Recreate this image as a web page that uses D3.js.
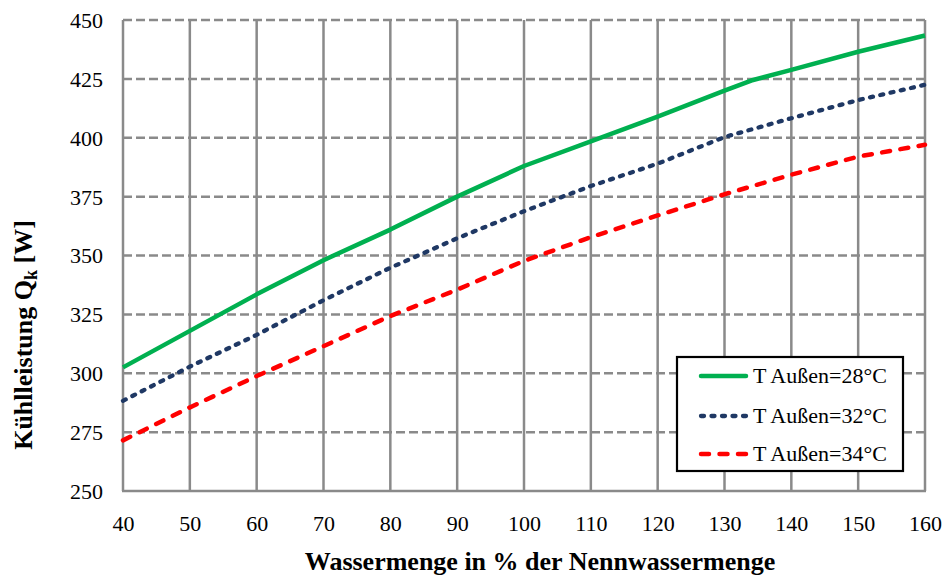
<!DOCTYPE html>
<html><head><meta charset="utf-8">
<script src="https://cdn.jsdelivr.net/npm/d3@7/dist/d3.min.js"></script>
<style>body{margin:0;background:#fff}svg{display:block}</style>
</head><body>
<script>
const xValues28 = [40,50,60,70,80,90,100,110,120,130,134,140,150,160];
const series28 = [302.5,318,333.5,348,361,375,388,398.5,409,420,424.3,428.8,436.5,443.4];
const xValues = [40,50,60,70,80,90,100,110,120,130,140,150,160];
const series32 = [288.3,302.8,316.3,331,344.8,357.3,368.8,379.5,389,400.3,408.3,416,422.5];
const series34 = [271.5,285.5,298.8,311.5,324.3,335.5,347.7,357.8,367,376,384.3,392,397];
const xTicks = [40,50,60,70,80,90,100,110,120,130,140,150,160];
const yTicks = [250,275,300,325,350,375,400,425,450];
const legendLabels = ["T Außen=28°C","T Außen=32°C","T Außen=34°C"];

const W=944,H=579;
const L=123,R=925,T=20,B=491;
const svg=d3.select("body").append("svg").attr("width",W).attr("height",H);
const x=d3.scaleLinear().domain([40,160]).range([L,R]);
const y=d3.scaleLinear().domain([250,450]).range([B,T]);
const font="'Liberation Serif','Times New Roman',serif";
const grid="#8a8a8a";

// horizontal dashed grid
svg.append("g").selectAll("line").data(yTicks.filter(d=>d>250)).join("line")
 .attr("x1",L).attr("x2",R).attr("y1",d=>y(d)).attr("y2",d=>y(d))
 .attr("stroke",grid).attr("stroke-width",2.5).attr("stroke-dasharray","9,4");
// vertical solid grid
svg.append("g").selectAll("line").data(xTicks).join("line")
 .attr("x1",d=>x(d)).attr("x2",d=>x(d)).attr("y1",T).attr("y2",B)
 .attr("stroke",grid).attr("stroke-width",2.5);
// bottom axis line
svg.append("line").attr("x1",L-1).attr("x2",R+1).attr("y1",B).attr("y2",B).attr("stroke",grid).attr("stroke-width",2.5);

// axes with d3
const xAxis=d3.axisBottom(x).tickValues(xTicks).tickSize(0).tickPadding(0).tickFormat(d3.format("d"));
const gx=svg.append("g").attr("transform",`translate(0,${B})`).call(xAxis);
gx.select(".domain").remove();
gx.selectAll("text").attr("font-family",font).attr("font-size",22).attr("fill","#000").attr("dy",null).attr("y",40);
const yAxis=d3.axisLeft(y).tickValues(yTicks).tickSize(0).tickPadding(20).tickFormat(d3.format("d"));
const gy=svg.append("g").attr("transform",`translate(${L},0)`).call(yAxis);
gy.select(".domain").remove();
gy.selectAll("text").attr("font-family",font).attr("font-size",22).attr("fill","#000").attr("dy","0.34em");

// lines
const dash32="3,7.5", dash34="8,10.5";
const line=d3.line().x(d=>x(d[0])).y(d=>y(d[1]));
svg.append("path").datum(xValues28.map((v,i)=>[v,series28[i]])).attr("d",line)
 .attr("fill","none").attr("stroke","#00B050").attr("stroke-width",4.5).attr("stroke-linejoin","round");
svg.append("path").datum(xValues.map((v,i)=>[v,series32[i]])).attr("d",line)
 .attr("fill","none").attr("stroke","#1F3864").attr("stroke-width",4.3).attr("stroke-dasharray",dash32).attr("stroke-linecap","round").attr("stroke-linejoin","round");
svg.append("path").datum(xValues.map((v,i)=>[v,series34[i]])).attr("d",line)
 .attr("fill","none").attr("stroke","#FF0000").attr("stroke-width",4.5).attr("stroke-dasharray",dash34).attr("stroke-linecap","round").attr("stroke-linejoin","round");

// legend
const lg=svg.append("g");
lg.append("rect").attr("x",677).attr("y",357).attr("width",226).attr("height",114).attr("fill","#fff").attr("stroke","#000").attr("stroke-width",2.2);
const styles=[{c:"#00B050",d:null,w:4.5},{c:"#1F3864",d:dash32,w:4.3},{c:"#FF0000",d:dash34,w:4.5}];
const rowY=[376,416,454];
legendLabels.forEach((t,i)=>{
  const l=lg.append("line").attr("x1",701).attr("x2",746).attr("y1",rowY[i]).attr("y2",rowY[i])
   .attr("stroke",styles[i].c).attr("stroke-width",styles[i].w).attr("stroke-linecap","round");
  if(styles[i].d) l.attr("stroke-dasharray",styles[i].d);
  lg.append("text").attr("x",753).attr("y",rowY[i]).attr("dy","0.34em").attr("font-family",font).attr("font-size",22).text(t);
});

// titles
svg.append("text").attr("x",540).attr("y",570).attr("text-anchor","middle").attr("font-family",font)
 .attr("font-size",26).attr("font-weight","bold").text("Wassermenge in % der Nennwassermenge");
const yt=svg.append("text").attr("transform","translate(32,335) rotate(-90)").attr("text-anchor","middle")
 .attr("font-family",font).attr("font-size",26).attr("font-weight","bold");
yt.append("tspan").text("Kühlleistung Q");
yt.append("tspan").attr("font-size",18).attr("dy",5).text("k");
yt.append("tspan").attr("dy",-5).text(" [W]");
</script>
</body></html>
